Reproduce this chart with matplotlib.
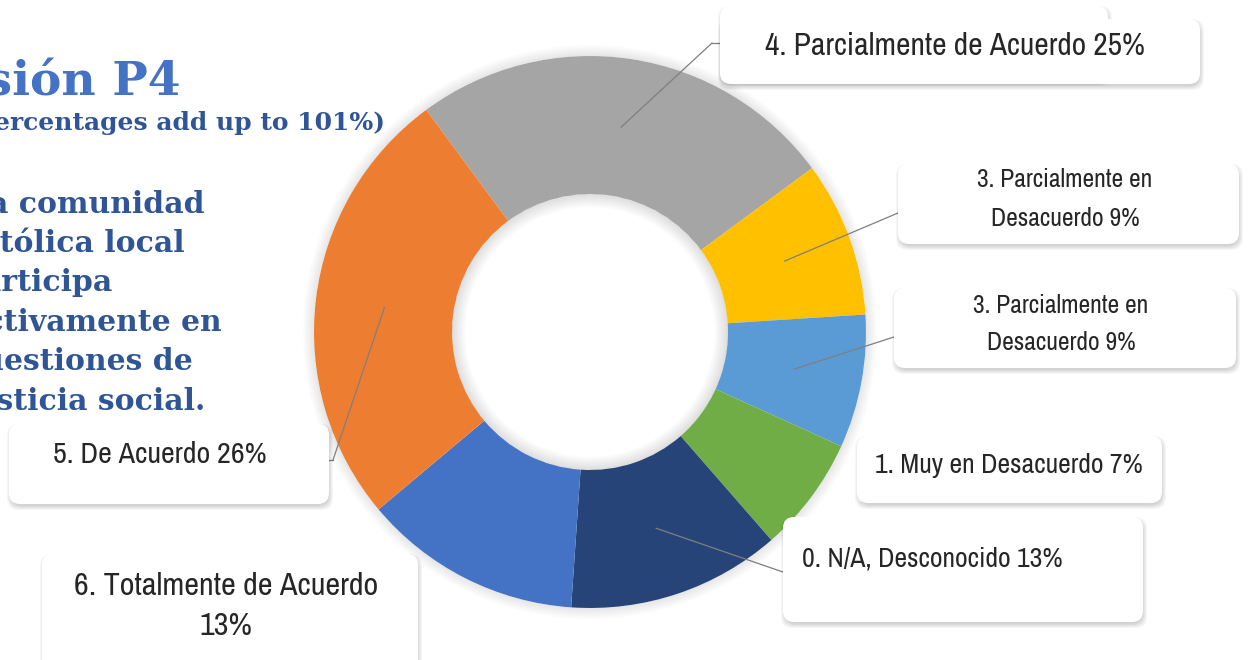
import numpy as np
import matplotlib.pyplot as plt
from matplotlib import font_manager
from matplotlib.patches import FancyBboxPatch, Annulus

# ring slices, clockwise from the grey one
labels = ['4. Parcialmente de Acuerdo', '3. Parcialmente en Desacuerdo',
          '3. Parcialmente en Desacuerdo', '1. Muy en Desacuerdo',
          '0. N/A, Desconocido', '6. Totalmente de Acuerdo', '5. De Acuerdo']
shares = [25.0, 9.1, 7.8, 6.8, 12.5, 12.8, 26.0]
pct_text = ['25%', '9%', '9%', '7%', '13%', '13%', '26%']
colors = ['#A5A5A5', '#FFC000', '#5B9BD5', '#70AD47', '#264478', '#4472C4', '#ED7D31']

title_lines = ['Discusión P4']
subtitle_lines = ['(Percentages add up to 101%)']
body_lines = ['La comunidad', 'católica local', 'participa',
              'activamente en', 'cuestiones de', 'justicia social.']

# the callouts use a narrow sans; take one if it is installed
names = sorted({f.name for f in font_manager.fontManager.ttflist})
narrow = [n for n in names if 'Narrow' in n or 'Condensed' in n]
if narrow:
    lab_font = [narrow[0], 'DejaVu Sans']
    fs = 1.08
else:
    lab_font = ['Liberation Sans', 'DejaVu Sans']
    fs = 0.84
serif = ['DejaVu Serif']

W, H = 1250, 660
fig = plt.figure(figsize=(12.5, 6.6), dpi=100)

# donut
cx, cy, R = 590, 332, 276
ax = fig.add_axes([(cx - R * 1.05) / W, (H - cy - R * 1.05) / H, 2.1 * R / W, 2.1 * R / H])
wedges, _ = ax.pie(shares, colors=colors, startangle=126.4, counterclock=False,
                   radius=1, wedgeprops=dict(width=0.5, edgecolor='none'))
ax.set_xlim(-1.05, 1.05)
ax.set_ylim(-1.05, 1.05)
# soft shadows round the ring and inside the hole
for k in range(1, 9):
    ax.add_patch(Annulus((0, 0), 1 + 0.005 * k, 0.005 * k, color='black', alpha=0.012,
                         zorder=0, lw=0))
    ax.add_patch(Annulus((0, 0), 0.5, 0.006 * k, color='black', alpha=0.015,
                         zorder=3, lw=0))

# overlay in pixel coords (y down)
ov = fig.add_axes([0, 0, 1, 1])
ov.set_xlim(0, W)
ov.set_ylim(H, 0)
ov.axis('off')

# left-hand heading text (cut off by the slide edge)
ov.text(181, 95, title_lines[0], ha='right', va='baseline', fontsize=34,
        fontweight='bold', color='#4472C4', family=serif)
ov.text(385, 130, subtitle_lines[0], ha='right', va='baseline', fontsize=18,
        fontweight='bold', color='#2F5597', family=serif)
body_right = [205, 185, 113, 222, 193, 205]
body_base = [213, 252, 291, 331, 370, 410]
for line, xr, yb in zip(body_lines, body_right, body_base):
    ov.text(xr, yb, line, ha='right', va='baseline', fontsize=21.5,
            fontweight='bold', color='#2F5597', family=serif)


def box(x0, y0, x1, y1):
    for k in range(5, 0, -1):
        ov.add_patch(FancyBboxPatch((x0 + 1 - k + 2, y0 + 3 - k + 2), x1 - x0 + 2 * k - 4,
                                    y1 - y0 + 2 * k - 4,
                                    boxstyle='round,pad=0,rounding_size=12',
                                    fc='black', ec='none', alpha=0.035, zorder=4))
    ov.add_patch(FancyBboxPatch((x0, y0), x1 - x0, y1 - y0,
                                boxstyle='round,pad=0,rounding_size=11',
                                fc='white', ec='none', zorder=5))


def leader(i, pts):
    t = np.deg2rad((wedges[i].theta1 + wedges[i].theta2) / 2)
    x, y = 0.75 * np.cos(t), 0.75 * np.sin(t)
    ov.annotate('', xy=pts[0], xycoords='data', xytext=(x, y), textcoords=ax.transData,
                arrowprops=dict(arrowstyle='-', color='#7F7F7F', lw=0.9,
                                shrinkA=0, shrinkB=0), zorder=3)
    for a, b in zip(pts[:-1], pts[1:]):
        ov.plot([a[0], b[0]], [a[1], b[1]], color='#7F7F7F', lw=0.9, zorder=3)


def label(x, y, s, size, ha='center'):
    ov.text(x, y, s, ha=ha, va='baseline', fontsize=size * fs, color='#262626',
            family=lab_font, zorder=6)


leader(0, [(712, 43), (720, 43)])
leader(1, [(898, 213)])
leader(2, [(894, 337)])
leader(4, [(783, 572)])
leader(6, [(333, 460), (329, 460)])

# grey: an extra box peeks out behind it
box(720, 6, 1108, 80)
box(720, 19, 1200, 84)
label(955, 55, labels[0] + ' ' + pct_text[0], 21)

box(898, 164, 1239, 244)
label(1065, 187, '3. Parcialmente en', 17)
label(1065, 226, 'Desacuerdo ' + pct_text[1], 17)

box(894, 288, 1236, 368)
label(1061, 313, '3. Parcialmente en', 17)
label(1061, 350, 'Desacuerdo ' + pct_text[2], 17)

box(857, 436, 1162, 503)
label(875, 473, labels[3] + ' ' + pct_text[3], 18.5, ha='left')

box(783, 517, 1143, 622)
label(802, 567, labels[4] + ' ' + pct_text[4], 18.5, ha='left')

box(9, 424, 329, 504)
label(160, 463, labels[6] + ' ' + pct_text[6], 20)

box(42, 554, 418, 680)
label(226, 595, labels[5], 21.5)
label(226, 635, pct_text[5], 21.5)

fig.savefig('out.png', dpi=100)
